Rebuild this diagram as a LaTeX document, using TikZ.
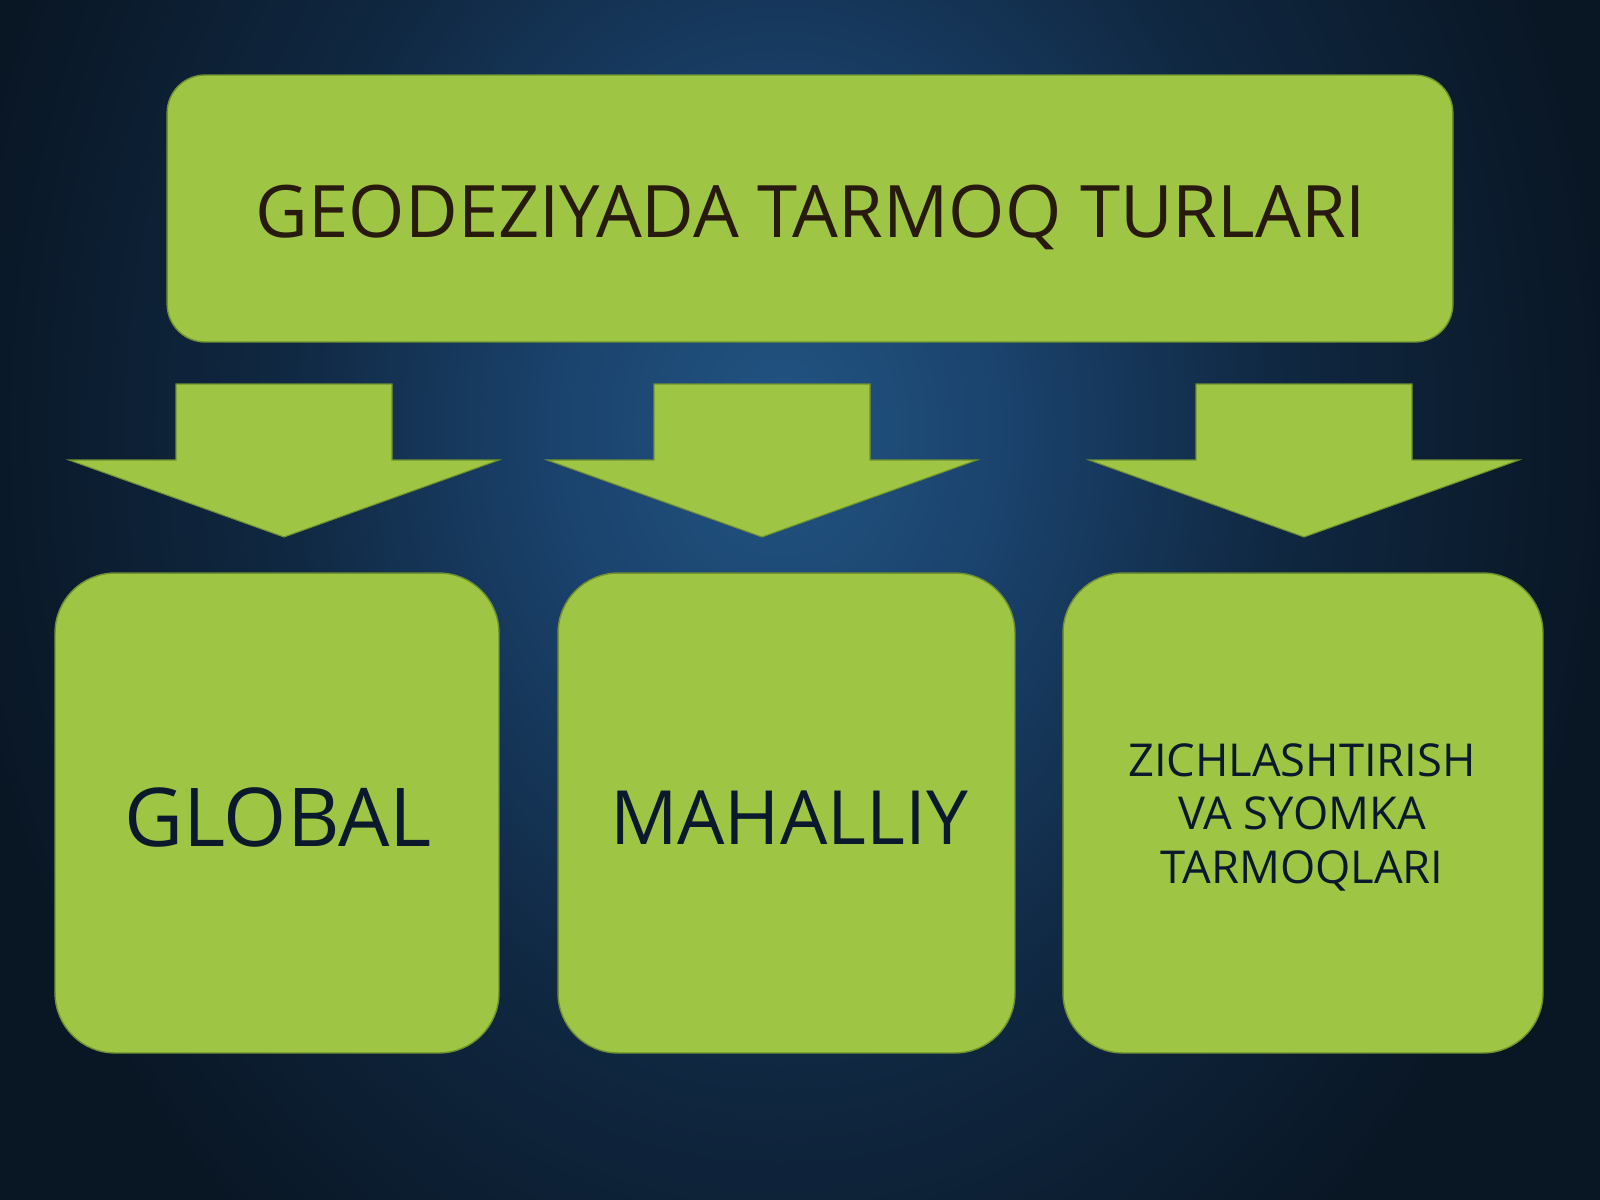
\documentclass[tikz,border=0pt]{standalone}
\usepackage{fontspec}
\setmainfont{Open Sans}
\usetikzlibrary{shapes.misc}
\definecolor{lime}{RGB}{159,197,68}
\definecolor{limeedge}{RGB}{112,145,48}
\definecolor{titletext}{RGB}{40,26,14}
\definecolor{boxtext}{RGB}{12,24,44}
\definecolor{bgA}{RGB}{34,84,130}
\definecolor{bgB}{RGB}{26,66,108}
\definecolor{bgC}{RGB}{16,40,66}
\definecolor{bgD}{RGB}{9,22,36}
\pgfdeclareradialshading{bgshade}{\pgfpoint{0bp}{0bp}}{%
  color(0bp)=(bgA); color(6bp)=(bgB); color(13bp)=(bgC); color(22bp)=(bgD); color(50bp)=(bgD)}
\begin{document}
\begin{tikzpicture}[x=0.02cm,y=-0.02cm,
  greenbox/.style={draw=limeedge, line width=0.8pt, fill=lime, inner sep=0pt},
  blockarrow/.style={draw=limeedge, line width=0.6pt, fill=lime},
  titlefont/.style={font=\fontsize{41.2}{48}\selectfont, text=titletext},
  globalfont/.style={font=\fontsize{46.2}{54}\selectfont, text=boxtext},
  mahfont/.style={font=\fontsize{42.6}{54}\selectfont, text=boxtext},
  smallfont/.style={font=\fontsize{25.8}{30.2}\selectfont, text=boxtext, align=center}]
\useasboundingbox (0,0) rectangle (1600,1200);
\begin{scope}
\clip (0,0) rectangle (1600,1200);
\fill[bgD] (0,0) rectangle (1600,1200);
\shade[shading=bgshade] (780,430) ellipse [x radius=950, y radius=1200];
\end{scope}
% top box
\node[greenbox, rounded corners=0.76cm, minimum width=25.72cm, minimum height=5.34cm] (top) at (810,208.5) {};
\node[titlefont, anchor=base] (toptext) at (811,237) {GEODEZIYADA TARMOQ TURLARI};
% block arrows
\foreach \cx/\nm in {284/a1, 762/a2, 1304/a3}{
  \coordinate (\nm) at (\cx,537);
  \filldraw[blockarrow] (\cx-108,384) -- (\cx+108,384) -- (\cx+108,460) -- (\cx+215,460)
     -- (\nm) -- (\cx-215,460) -- (\cx-108,460) -- cycle;
}
% bottom boxes
\node[greenbox, rounded corners=1.2cm, minimum width=8.88cm, minimum height=9.6cm] (global) at (277,813) {};
\node[greenbox, rounded corners=1.2cm, minimum width=9.14cm, minimum height=9.6cm] (mahalliy) at (786.5,813) {};
\node[greenbox, rounded corners=1.2cm, minimum width=9.6cm, minimum height=9.6cm] (zich) at (1303,813) {};
\node[globalfont, anchor=base] (globaltext) at (278,846) {GLOBAL};
\node[mahfont, anchor=base] (mahalliytext) at (789,844) {MAHALLIY};
\node[smallfont, anchor=base] (zichtext) at (1302,883) {ZICHLASHTIRISH\\VA SYOMKA\\TARMOQLARI};
\end{tikzpicture}
\end{document}
